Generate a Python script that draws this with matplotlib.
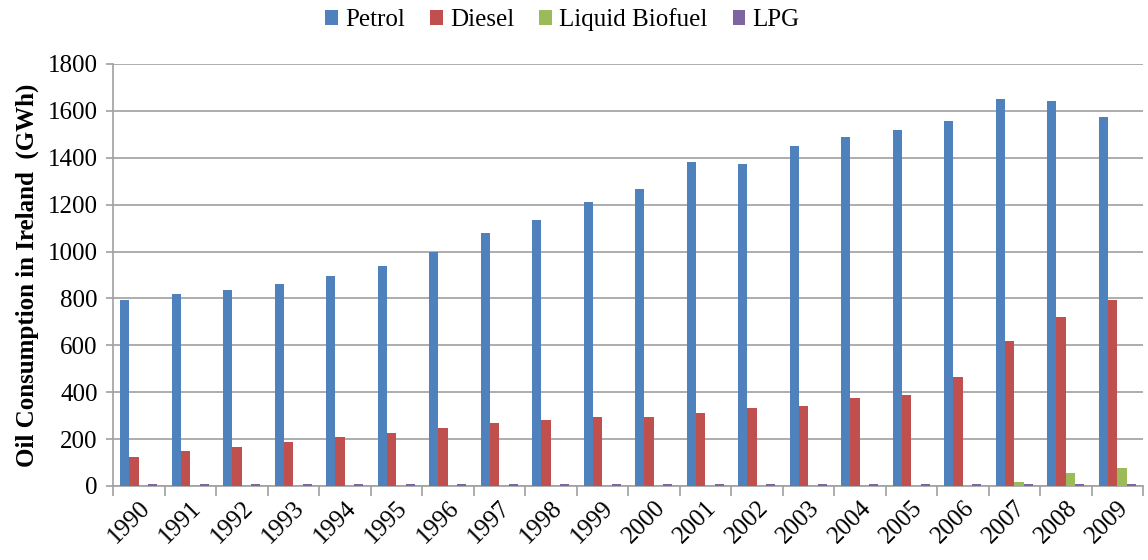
import matplotlib
matplotlib.use("Agg")
import matplotlib.pyplot as plt
import numpy as np

years = [str(y) for y in range(1990, 2010)]
petrol = [795, 820, 838, 860, 897, 940, 1000, 1078, 1133, 1210, 1265, 1380, 1373, 1450, 1487, 1520, 1555, 1652, 1642, 1575]
diesel = [124, 150, 166, 188, 210, 226, 248, 270, 282, 293, 293, 312, 332, 342, 375, 390, 465, 620, 722, 795]
biofuel = [0, 0, 0, 0, 0, 0, 0, 0, 0, 0, 0, 0, 0, 0, 0, 5, 5, 18, 57, 78]
lpg = [7] * 20
series_names = ["Petrol", "Diesel", "Liquid Biofuel", "LPG"]
colors = ["#4F81BD", "#C0504D", "#9BBB59", "#8064A2"]

plt.rcParams['font.family'] = ['Liberation Serif', 'DejaVu Serif']

fig = plt.figure(figsize=(11.48, 5.6), dpi=100)
ax = fig.add_axes([113/1148, 1-486/560, (1143-113)/1148, (486-64)/560])

x = np.arange(len(years))
w = 0.18
data = [petrol, diesel, biofuel, lpg]
for i, (vals, name, c) in enumerate(zip(data, series_names, colors)):
    ax.bar(x + (i - 1.5) * w, vals, w, color=c, label=name, zorder=3)

ax.set_xlim(-0.5, len(years) - 0.5)
ax.set_ylim(0, 1800)
ax.set_yticks(range(0, 1801, 200))
ax.yaxis.grid(True, color="#A0A0A0", linewidth=1.2, zorder=0)
ax.set_axisbelow(True)
for s in ["top", "right"]:
    ax.spines[s].set_visible(False)
for s in ["left", "bottom"]:
    ax.spines[s].set_color("#A0A0A0")
    ax.spines[s].set_linewidth(1.2)

ax.set_xticks(x)
ax.set_xticklabels(years, rotation=45, ha="right", rotation_mode="anchor", fontsize=18)
ax.tick_params(axis="x", length=0, pad=8)
ax.set_xticks(np.arange(-0.5, len(years)), minor=True)
ax.tick_params(axis="x", which="minor", length=7, color="#A0A0A0", width=1.2, direction="out")
ax.tick_params(axis="y", labelsize=18, length=5, color="#A0A0A0", width=1.2, direction="out", pad=6)

ax.set_ylabel("Oil Consumption in Ireland  (GWh)", fontsize=18, fontweight="bold", labelpad=6)

fig.legend(loc="upper center", bbox_to_anchor=(0.49, 1.025), ncol=4, frameon=False,
           fontsize=18, handlelength=0.5, handleheight=0.5, handletextpad=0.3, columnspacing=1.0)

fig.savefig("out.png", dpi=100)
